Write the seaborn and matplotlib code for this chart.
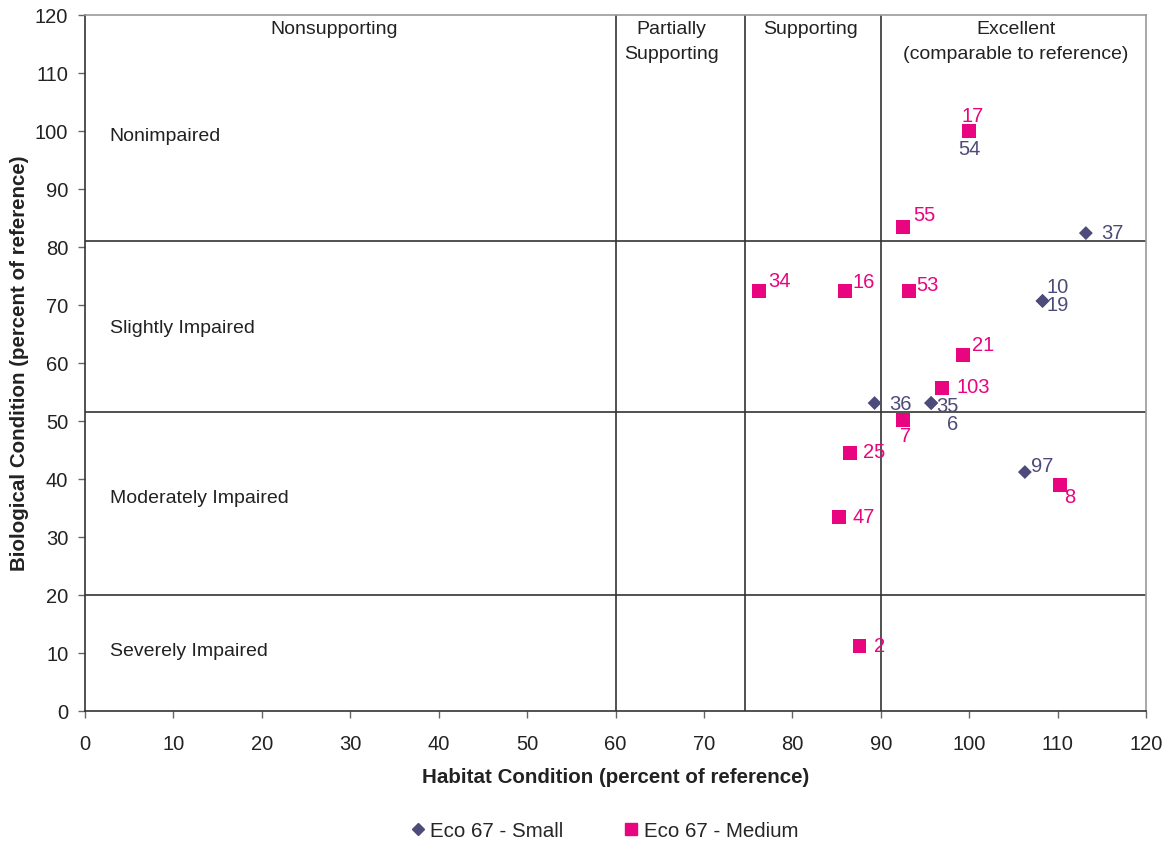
import pandas as pd
import matplotlib.pyplot as plt
import seaborn as sns
from matplotlib.lines import Line2D

# site data
small_sites = ['54', '37', '10', '19', '36', '35', '6', '97']
small_habitat = [100.0, 113.2, 108.3, 108.3, 89.3, 95.7, 95.7, 106.3]
small_bio = [100.0, 82.4, 70.7, 70.7, 53.1, 53.1, 53.1, 41.2]

medium_sites = ['17', '55', '34', '16', '53', '21', '103', '7', '25', '8', '47', '2']
medium_habitat = [100.0, 92.5, 76.2, 86.0, 93.2, 99.3, 96.9, 92.5, 86.5, 110.3, 85.3, 87.6]
medium_bio = [100.0, 83.4, 72.4, 72.4, 72.4, 61.4, 55.7, 50.2, 44.5, 39.0, 33.4, 11.2]

# class boundaries
habitat_breaks = [60, 74.7, 90]
bio_breaks = [81, 51.5, 20]

habitat_classes = ['Nonsupporting', 'Partially\nSupporting', 'Supporting',
                   'Excellent\n(comparable to reference)']
bio_classes = ['Nonimpaired', 'Slightly Impaired', 'Moderately Impaired', 'Severely Impaired']

SMALL_COLOR = '#4d4b79'
MEDIUM_COLOR = '#e8057f'

# label offsets in pixels (dx, dy, ha)
label_pos = {
    ('Small', '54'): (0, -18, 'center'), ('Small', '37'): (15, 0, 'left'),
    ('Small', '10'): (4, 13, 'left'), ('Small', '19'): (4, -5, 'left'),
    ('Small', '36'): (15, -1, 'left'), ('Small', '35'): (5, -3, 'left'),
    ('Small', '6'): (16, -21, 'left'), ('Small', '97'): (6, 6, 'left'),
    ('Medium', '17'): (3, 15, 'center'), ('Medium', '55'): (10, 12, 'left'),
    ('Medium', '34'): (9, 10, 'left'), ('Medium', '16'): (7, 9, 'left'),
    ('Medium', '53'): (7, 6, 'left'), ('Medium', '21'): (9, 9, 'left'),
    ('Medium', '103'): (15, 0, 'left'), ('Medium', '7'): (3, -17, 'center'),
    ('Medium', '25'): (13, 0, 'left'), ('Medium', '8'): (10, -13, 'center'),
    ('Medium', '47'): (13, 0, 'left'), ('Medium', '2'): (14, 0, 'left'),
}

df = pd.concat([
    pd.DataFrame({'habitat': small_habitat, 'bio': small_bio, 'site': small_sites, 'series': 'Small'}),
    pd.DataFrame({'habitat': medium_habitat, 'bio': medium_bio, 'site': medium_sites, 'series': 'Medium'}),
], ignore_index=True)

sns.set_style('white')
plt.rcParams['font.family'] = ['Liberation Sans', 'DejaVu Sans']

fig = plt.figure(figsize=(11.7, 8.46), dpi=100)
ax = fig.add_axes([85 / 1170, 1 - 711 / 846, (1146 - 85) / 1170, (711 - 15) / 846])

for xb in habitat_breaks:
    ax.axvline(xb, color='#333333', lw=1.2, zorder=1)
for yb in bio_breaks:
    ax.axhline(yb, color='#333333', lw=1.2, zorder=1)

sns.scatterplot(data=df, x='habitat', y='bio', hue='series', style='series',
                palette={'Small': SMALL_COLOR, 'Medium': MEDIUM_COLOR},
                markers={'Small': 'D', 'Medium': 's'},
                size='series', sizes={'Small': 50, 'Medium': 100},
                edgecolor='none', legend=False, ax=ax, zorder=3)

for _, r in df.iterrows():
    dx, dy, ha = label_pos[(r['series'], r['site'])]
    ax.annotate(r['site'], (r['habitat'], r['bio']), xytext=(dx, dy),
                textcoords='offset pixels', ha=ha, va='center', fontsize=14.5,
                color=SMALL_COLOR if r['series'] == 'Small' else MEDIUM_COLOR)

# class labels
for txt, xc in zip(habitat_classes, [28.2, 66.3, 82.0, 105.3]):
    ax.text(xc, 119.0, txt, ha='center', va='top', fontsize=14, color='#222222',
            linespacing=1.6)
for txt, yc in zip(bio_classes, [99, 66, 36.7, 10.2]):
    ax.text(2.8, yc, txt, ha='left', va='center', fontsize=14, color='#222222')

ax.set_xlim(0, 120)
ax.set_ylim(0, 120)
ax.set_xticks(range(0, 121, 10))
ax.set_yticks(range(0, 121, 10))
ax.tick_params(axis='both', direction='out', length=5, width=1, color='#666666',
               labelsize=14.5, labelcolor='#222222', left=True, bottom=True, pad=7)
ax.tick_params(axis='x', pad=12)
for side in ['left', 'bottom']:
    ax.spines[side].set_color('#333333')
    ax.spines[side].set_linewidth(1.2)
for side in ['top', 'right']:
    ax.spines[side].set_color('#999999')
    ax.spines[side].set_linewidth(1.2)

ax.set_xlabel('Habitat Condition (percent of reference)', fontsize=14.8,
              fontweight='bold', color='#222222', labelpad=10)
ax.set_ylabel('Biological Condition (percent of reference)', fontsize=14.8,
              fontweight='bold', color='#222222', labelpad=4)

handles = [
    Line2D([], [], marker='D', ls='none', color=SMALL_COLOR, markersize=6, label='Eco 67 - Small'),
    Line2D([], [], marker='s', ls='none', color=MEDIUM_COLOR, markersize=8, label='Eco 67 - Medium'),
]
fig.legend(handles=handles, loc='center', bbox_to_anchor=(603 / 1170, 1 - 831 / 846),
           ncol=2, frameon=False, fontsize=14.8, handletextpad=0.1, columnspacing=2.8,
           handlelength=1)

fig.savefig('out.png', dpi=100)
plt.close()
